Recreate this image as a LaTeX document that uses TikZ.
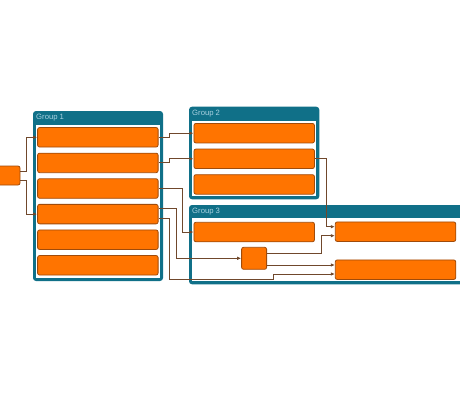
\documentclass[tikz,border=0pt]{standalone}
\usepackage{fontspec}
\setmainfont{Liberation Sans}
\usetikzlibrary{arrows.meta,positioning,calc}
\definecolor{grpC}{RGB}{16,112,136}
\definecolor{grpT}{RGB}{170,210,225}
\definecolor{itemC}{RGB}{255,116,0}
\definecolor{itemB}{RGB}{160,75,10}
\definecolor{lineC}{RGB}{112,72,44}
\tikzset{
    line/.style   = {-{Latex[length=4pt,width=3.5pt]}, line width=0.9pt, draw=lineC},
    block/.style  = {draw=itemB, line width=0.8pt, fill=itemC,
            rounded corners=2pt, inner sep=0pt},
    item/.style   = {block, minimum width=120.5pt, minimum height=19.5pt},
    glabel/.style = {text=grpT, font=\fontsize{7.7}{9}\selectfont,
            inner sep=0pt, anchor=west},
}
\newcommand{\Group}[7]{% name, x0, y0, x1, y1, header, label
    \fill[grpC, rounded corners=3pt] (#2,#3) rectangle (#4,#5);
    \fill[white] (#2+3,#3+#6) rectangle (#4-3,#5-3);
    \node[glabel] (#1) at (#2+3,#3+7) {#7};
}

\begin{document}
\begin{tikzpicture}[x=1pt,y=-1pt]
    \useasboundingbox (0,0) rectangle (460,400);
    % containers
    \Group{grp1}{33}{111}{163}{281}{14}{Group 1}
    \Group{grp2}{189}{106.7}{319.3}{199.3}{14}{Group 2}
    \Group{grp3}{189}{205}{463}{284.3}{13}{Group 3}

    % source
    \node[block, minimum width=24pt, minimum height=19pt] (src) at (8,175.5) {};

    % group 1 items
    \foreach \i/\n in {0/g1a,1/g1b,2/g1c,3/g1d,4/g1e,5/g1f}
        \node[item] (\n) at (97.85,137.3+25.6*\i) {};
    % group 2 items
    \foreach \i/\n in {0/g2a,1/g2b,2/g2c}
        \node[item] (\n) at (254.2,133.2+25.6*\i) {};
    % group 3 items
    \node[item] (g3a) at (254.2,232) {};
    \node[item] (g3b) at (395.5,231.7) {};
    \node[item] (g3c) at (395.5,269.7) {};
    \node[block, minimum width=25pt, minimum height=22pt] (hub) at (254.1,258.3) {};

    % connectors
    \draw[line] ([yshift=4.5pt]src.east) -- ++(6,0) |- (g1a.west);
    \draw[line] ([yshift=-4.5pt]src.east) -- ++(6,0) |- (g1d.west);
    \draw[line] (g1a.east) -- ++(11,0) |- (g2a.west);
    \draw[line] (g1b.east) -- ++(11,0) |- (g2b.west);
    \draw[line] (g1c.east) -- ++(24.3,0) |- (g3a.west);
    \draw[line] ([yshift=5.5pt]g1d.east) -- ++(17.7,0) |- (hub.west);
    \coordinate (k1) at (273.3,279.3);
    \draw[line] ([yshift=-4pt]g1d.east) -- ++(11.3,0) |- (k1) |- ([yshift=-4.3pt]g3c.west);
    \draw[line] (g2b.east) -- ++(11.3,0) |- ([yshift=5pt]g3b.west);
    \draw[line] ([yshift=5pt]hub.east) -- ++(54,0) |- ([yshift=-4pt]g3b.west);
    \coordinate (p3) at ([yshift=4.7pt]g3c.west);
    \draw[line] (hub.east |- p3) -- (p3);
\end{tikzpicture}
\end{document}
